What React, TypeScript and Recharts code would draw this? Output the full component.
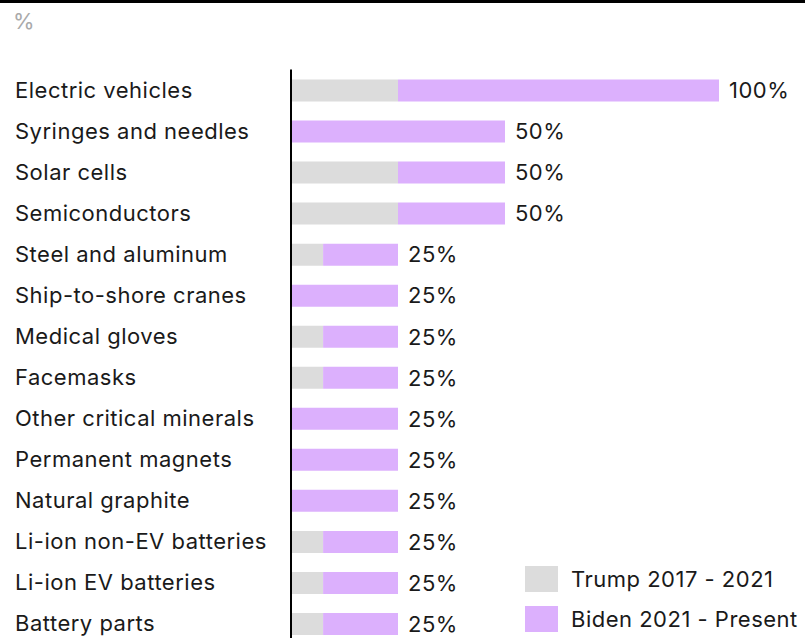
import { Bar, BarChart, LabelList, XAxis, YAxis } from "recharts";

const categories = [
  "Electric vehicles",
  "Syringes and needles",
  "Solar cells",
  "Semiconductors",
  "Steel and aluminum",
  "Ship-to-shore cranes",
  "Medical gloves",
  "Facemasks",
  "Other critical minerals",
  "Permanent magnets",
  "Natural graphite",
  "Li-ion non-EV batteries",
  "Li-ion EV batteries",
  "Battery parts",
];
const trump = [25, 0, 25, 25, 7.5, 0, 7.5, 7.5, 0, 0, 0, 7.5, 7.5, 7.5];
const totals = [100, 50, 50, 50, 25, 25, 25, 25, 25, 25, 25, 25, 25, 25];

const GRAY = "#dcdcdc";
const PURPLE = "#dcb0fd";
const FONT = "Inter, 'Noto Sans', sans-serif";
const FS = 22;
const LS = 0.5;

const data = categories.map((name, i) => ({
  name,
  trump: trump[i],
  biden: totals[i] - trump[i],
  total: totals[i],
}));

const legendItems = [
  { label: "Trump 2017 - 2021", color: GRAY },
  { label: "Biden 2021 - Present", color: PURPLE },
];

function CategoryTick(props: any) {
  const { y, payload } = props;
  return (
    <text
      x={15}
      y={y}
      dy={8}
      textAnchor="start"
      fontSize={FS}
      letterSpacing={LS}
      fill="#1a1a1a"
      fontFamily={FONT}
    >
      {payload.value}
    </text>
  );
}

export default function App() {
  return (
    <div
      style={{
        position: "absolute",
        left: 0,
        top: 0,
        width: 805,
        height: 638,
        overflow: "hidden",
        background: "#fff",
        fontFamily: FONT,
      }}
    >
      <div style={{ position: "absolute", left: 0, top: 0, width: 805, height: 3, background: "#000" }} />
      <div style={{ position: "absolute", left: 13, top: 8, fontSize: 22, color: "#aaa" }}>%</div>
      <BarChart
        width={805}
        height={644}
        data={data}
        layout="vertical"
        margin={{ top: 69.5, right: 86, bottom: 0, left: 0 }}
        barSize={22}
      >
        <XAxis type="number" domain={[0, 100]} hide />
        <YAxis
          type="category"
          dataKey="name"
          width={291}
          tick={<CategoryTick />}
          tickLine={false}
          axisLine={{ stroke: "#000", strokeWidth: 2 }}
        />
        <Bar dataKey="trump" stackId="a" fill={GRAY} isAnimationActive={false} />
        <Bar dataKey="biden" stackId="a" fill={PURPLE} isAnimationActive={false}>
          <LabelList
            dataKey="total"
            position="right"
            offset={10}
            formatter={(v: any) => `${v}%`}
            style={{ fontSize: FS, letterSpacing: LS, fill: "#1a1a1a", fontFamily: FONT }}
          />
        </Bar>
      </BarChart>
      <div
        style={{
          position: "absolute",
          left: 525,
          top: 559,
          fontSize: FS,
          letterSpacing: LS,
          color: "#1a1a1a",
        }}
      >
        {legendItems.map((it) => (
          <div key={it.label} style={{ display: "flex", alignItems: "center", height: 40 }}>
            <span style={{ width: 33, height: 26, background: it.color, marginRight: 13 }} />
            {it.label}
          </div>
        ))}
      </div>
    </div>
  );
}
